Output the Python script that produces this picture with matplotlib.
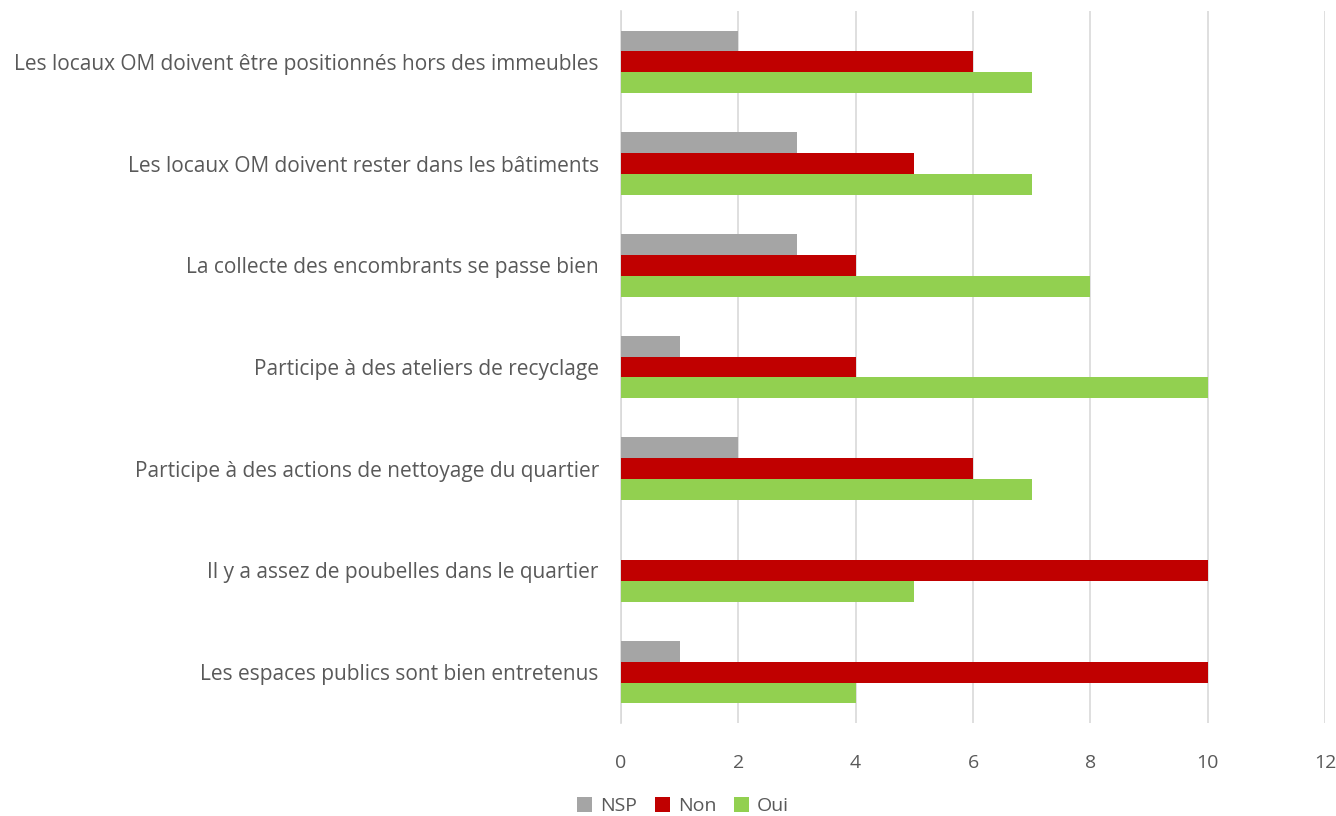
import numpy as np
import matplotlib
matplotlib.use("Agg")
import matplotlib.pyplot as plt

categories = [
    "Les locaux OM doivent être positionnés hors des immeubles",
    "Les locaux OM doivent rester dans les bâtiments",
    "La collecte des encombrants se passe bien",
    "Participe à des ateliers de recyclage",
    "Participe à des actions de nettoyage du quartier",
    "Il y a assez de poubelles dans le quartier",
    "Les espaces publics sont bien entretenus",
]
nsp = [2, 3, 3, 1, 2, 0, 1]
non = [6, 5, 4, 4, 6, 10, 10]
oui = [7, 7, 8, 10, 7, 5, 4]

plt.rcParams["font.family"] = ["Open Sans", "DejaVu Sans"]
text_col = "#595959"

fig = plt.figure(figsize=(13.36, 8.16), dpi=100)
ax = fig.add_axes([621 / 1336, 1 - 723 / 816, 704 / 1336, 712 / 816])

y = np.arange(len(categories))
h = 0.205
ax.barh(y - h, nsp, height=h, color="#A5A5A5", label="NSP", zorder=3)
ax.barh(y, non, height=h, color="#C00000", label="Non", zorder=3)
ax.barh(y + h, oui, height=h, color="#92D050", label="Oui", zorder=3)

ax.set_ylim(len(categories) - 0.5, -0.5)
ax.set_xlim(0, 12)
ax.set_xticks(range(0, 13, 2))
ax.set_yticks(y)
ax.set_yticklabels(categories)
ax.tick_params(axis="both", length=0, labelsize=15, colors=text_col)
ax.tick_params(axis="x", labelsize=14, pad=22)
ax.tick_params(axis="y", pad=16)
ax.xaxis.grid(True, color="#D9D9D9", linewidth=1.2, zorder=0)
for s in ["top", "right", "bottom"]:
    ax.spines[s].set_visible(False)
ax.spines["left"].set_color("#D9D9D9")
ax.spines["left"].set_linewidth(1.2)

leg = fig.legend(loc="center", bbox_to_anchor=(683 / 1336, 1 - 806 / 816), ncol=3,
                 frameon=False, fontsize=14, handlelength=0.8, handleheight=0.8,
                 handletextpad=0.4, columnspacing=0.9)
for t in leg.get_texts():
    t.set_color(text_col)

fig.savefig("out.png", dpi=100)
